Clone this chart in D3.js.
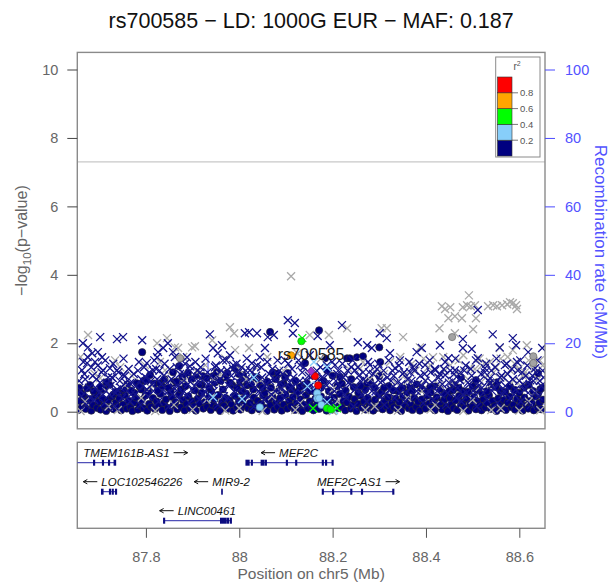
<!DOCTYPE html>
<html><head><meta charset="utf-8">
<script src="https://cdn.jsdelivr.net/npm/d3@7"></script>
<style>
body{margin:0;background:#fff}
svg{display:block;font-family:"Liberation Sans",Arial,Helvetica,sans-serif}
</style>
</head><body>
<svg id="chart" width="611" height="583"></svg>
<script>
// ---- axis ticks and legend breaks ----
const xTicks = [87.8, 88, 88.2, 88.4, 88.6];
const yTicks = [0, 2, 4, 6, 8, 10];
const recTicks = [0, 20, 40, 60, 80, 100];
const ldBreaks = [0.2, 0.4, 0.6, 0.8];
const ldLabels = ["0.2", "0.4", "0.6", "0.8"];
const ldColors = ["#000080", "#87CEFA", "#00FF00", "#FFA500", "#FF0000"];
const gwsLine = 7.3;

// ---- SNPs: [position (Mb), -log10 p] ----
const navyCircles = [
[87.655,.05],[87.659,.31],[87.663,.14],[87.667,.42],[87.671,.08],[87.675,.24],[87.679,.37],[87.683,.03],[87.687,.19],[87.691,.46],
[87.695,.11],[87.699,.29],[87.703,.06],[87.707,.38],[87.711,.17],[87.715,.02],[87.719,.33],[87.723,.12],[87.727,.44],[87.731,.07],
[87.735,.26],[87.739,.15],[87.743,.39],[87.747,.04],[87.751,.21],[87.755,.48],[87.759,.09],[87.763,.32],[87.767,.13],[87.771,.02],
[87.775,.27],[87.779,.41],[87.783,.06],[87.787,.18],[87.791,.35],[87.795,.10],[87.799,.47],[87.803,.03],[87.807,.23],[87.811,.14],
[87.815,.40],[87.819,.08],[87.823,.30],[87.827,.16],[87.831,.52],[87.835,.05],[87.839,.25],[87.843,.36],[87.847,.11],[87.851,.02],
[87.855,.43],[87.859,.19],[87.863,.28],[87.867,.07],[87.871,.50],[87.875,.13],[87.879,.34],[87.883,.04],[87.887,.22],[87.891,.45],
[87.895,.10],[87.899,.31],[87.903,.16],[87.907,.03],[87.911,.38],[87.915,.24],[87.919,.55],[87.923,.09],[87.927,.29],[87.931,.14],
[87.935,.42],[87.939,.05],[87.943,.20],[87.947,.36],[87.951,.12],[87.955,.49],[87.959,.02],[87.963,.27],[87.967,.17],[87.971,.40],
[87.975,.08],[87.979,.33],[87.983,.21],[87.987,.03],[87.991,.46],[87.995,.13],[87.999,.30],[88.003,.06],[88.007,.37],[88.011,.18],
[88.015,.52],[88.019,.10],[88.023,.25],[88.027,.04],[88.031,.41],[88.035,.15],[88.039,.32],[88.043,.07],[88.047,.23],[88.051,.47],
[88.055,.11],[88.059,.02],[88.063,.35],[88.067,.19],[88.071,.44],[88.075,.06],[88.079,.28],[88.083,.14],[88.087,.39],[88.091,.03],
[88.095,.21],[88.099,.50],[88.103,.09],[88.107,.31],[88.111,.16],[88.115,.43],[88.119,.05],[88.123,.26],[88.127,.12],[88.131,.36],
[88.135,.02],[88.139,.20],[88.143,.48],[88.147,.10],[88.151,.30],[88.155,.15],[88.159,.04],[88.163,.38],[88.167,.22],[88.171,.08],
[88.175,.45],[88.179,.13],[88.183,.29],[88.187,.03],[88.191,.34],[88.195,.18],[88.199,.06],[88.203,.41],[88.207,.24],[88.211,.10],
[88.215,.52],[88.219,.15],[88.223,.32],[88.227,.04],[88.231,.27],[88.235,.44],[88.239,.09],[88.243,.19],[88.247,.37],[88.251,.02],
[88.255,.23],[88.259,.47],[88.263,.12],[88.267,.30],[88.271,.06],[88.275,.40],[88.279,.17],[88.283,.26],[88.287,.03],[88.291,.35],
[88.295,.11],[88.299,.49],[88.303,.20],[88.307,.07],[88.311,.31],[88.315,.16],[88.319,.42],[88.323,.04],[88.327,.25],[88.331,.13],
[88.335,.38],[88.339,.08],[88.343,.28],[88.347,.02],[88.351,.45],[88.355,.18],[88.359,.33],[88.363,.10],[88.367,.22],[88.371,.05],
[88.375,.40],[88.379,.14],[88.383,.29],[88.387,.03],[88.391,.36],[88.395,.19],[88.399,.09],[88.403,.47],[88.407,.24],[88.411,.12],
[88.415,.31],[88.419,.04],[88.423,.42],[88.427,.17],[88.431,.27],[88.435,.07],[88.439,.35],[88.443,.15],[88.447,.02],[88.451,.40],
[88.455,.21],[88.459,.10],[88.463,.33],[88.467,.05],[88.471,.46],[88.475,.18],[88.479,.28],[88.483,.11],[88.487,.38],[88.491,.03],
[88.495,.23],[88.499,.14],[88.503,.43],[88.507,.07],[88.511,.30],[88.515,.19],[88.519,.04],[88.523,.36],[88.527,.12],[88.531,.25],
[88.535,.48],[88.539,.08],[88.543,.32],[88.547,.16],[88.551,.02],[88.555,.39],[88.559,.22],[88.563,.10],[88.567,.34],[88.571,.05],
[88.575,.27],[88.579,.44],[88.583,.13],[88.587,.20],[88.591,.06],[88.595,.37],[88.599,.15],[88.603,.29],[88.607,.03],[88.611,.41],
[88.615,.18],[88.619,.09],[88.623,.31],[88.627,.24],[88.631,.04],[88.635,.45],[88.639,.12],[88.643,.26],[88.647,.07],[88.651,.35],
// mid band
[87.657,.70],[87.665,.50],[87.680,.78],[87.695,.52],[87.710,.65],[87.722,.78],[87.730,.50],[87.745,.60],[87.760,.80],[87.775,.55],
[87.790,.65],[87.795,.90],[87.805,.58],[87.825,.62],[87.835,.75],[87.853,.60],[87.860,.85],[87.875,.65],[87.885,.75],[87.905,.62],
[87.920,.78],[87.940,.60],[87.948,.85],[87.965,.65],[87.985,.78],[88.005,.60],[88.015,.85],[88.030,.65],[88.045,.78],[88.055,.55],
[88.068,.70],[88.085,.62],[88.095,.82],[88.112,.65],[88.125,.58],[88.137,.78],[88.150,.60],[88.175,.70],[88.192,.60],[88.210,.75],
[88.228,.62],[88.245,.72],[88.255,.55],[88.270,.65],[88.290,.70],[88.305,.58],[88.320,.75],[88.340,.60],[88.360,.55],[88.380,.80],
[88.400,.62],[88.420,.74],[88.440,.52],[88.460,.78],[88.480,.60],[88.500,.75],[88.520,.55],[88.540,.80],[88.560,.60],[88.580,.74],
[88.600,.55],[88.620,.78],[88.640,.52],[88.650,.70],
[87.660,.55],[87.674,.68],[87.688,.60],[87.703,.72],[87.715,.86],[87.736,.58],[87.752,.66],[87.768,.62],[87.781,.83],[87.786,.74],
[87.800,.90],[87.809,1.07],[87.818,.82],[87.830,.83],[87.840,.95],[87.848,.70],[87.858,1.15],[87.865,.88],[87.871,1.33],[87.878,1.02],
[87.890,1.13],[87.898,.95],[87.910,1.07],[87.915,.80],[87.922,1.04],[87.930,.98],[87.936,.70],[87.944,1.04],[87.952,1.15],[87.960,.90],
[87.970,1.01],[87.974,1.13],[87.980,.85],[87.991,1.27],[87.995,.70],[87.999,1.10],[88.002,.86],[88.008,1.07],[88.010,.92],[88.017,.77],
[88.025,.80],[88.034,1.01],[88.040,.95],[88.050,.70],[88.060,.88],[88.072,1.15],[88.078,.95],[88.083,1.12],[88.090,.80],[88.098,1.00],
[88.104,1.13],[88.107,.72],[88.120,.90],[88.130,.72],[88.141,1.42],[88.145,.83],[88.160,.60],[88.180,.90],[88.184,1.56],[88.188,1.21],
[88.200,1.05],[88.216,1.01],[88.220,.82],[88.231,1.56],[88.237,1.56],[88.240,.95],[88.252,1.59],[88.260,.75],[88.265,1.62],[88.274,.83],
[88.280,.90],[88.300,1.04],[88.302,1.45],[88.310,.70],[88.330,.62],[88.350,.70],[88.366,.72],[88.370,.60],[88.390,.68],[88.409,.72],
[88.410,.56],[88.430,.66],[88.450,.60],[88.458,.63],[88.470,.70],[88.475,1.00],[88.490,.58],[88.507,.92],[88.510,.65],[88.530,.60],
[88.550,.72],[88.552,.86],[88.570,.58],[88.590,.64],[88.610,.70],[88.630,.60],[88.640,1.12],[88.645,.66],
// upper
[87.792,1.74],[88.066,2.33],[88.171,2.38],[88.300,1.88]
];

const navyCrosses = [
[87.657,.90],[87.662,.45],[87.668,1.10],[87.672,.20],[87.678,.70],[87.683,1.30],[87.689,.35],[87.694,.95],[87.700,.55],[87.705,1.15],
[87.711,.25],[87.716,.80],[87.722,.50],[87.727,1.00],[87.733,.15],[87.738,.65],[87.744,.90],[87.749,.40],[87.755,1.05],[87.760,.60],
[87.766,.30],[87.771,.85],[87.777,.50],[87.783,1.20],[87.788,.20],[87.794,.75],[87.800,1.00],[87.805,.45],[87.811,.90],[87.816,.60],
[87.822,1.25],[87.827,.30],[87.833,.80],[87.838,1.05],[87.844,.55],[87.849,.15],[87.855,.95],[87.860,.70],[87.866,1.30],[87.871,.40],
[87.877,.85],[87.882,1.10],[87.888,.50],[87.893,.25],[87.899,1.00],[87.904,.75],[87.910,1.20],[87.915,.35],[87.921,.90],[87.926,.60],
[87.932,1.15],[87.937,.45],[87.943,.80],[87.948,1.30],[87.954,.20],[87.959,.95],[87.965,.65],[87.970,1.10],[87.976,.40],[87.981,.85],
[87.987,1.25],[87.992,.55],[87.998,.30],[88.003,1.00],[88.009,.70],[88.014,1.20],[88.020,.45],[88.025,.90],[88.031,.15],[88.036,1.05],
[88.042,.60],[88.047,1.30],[88.053,.35],[88.058,.80],[88.064,1.10],[88.069,.50],[88.075,.95],[88.080,.25],[88.086,1.20],[88.091,.70],
[88.097,.40],[88.102,1.00],[88.108,.85],[88.113,1.25],[88.119,.55],[88.124,.30],[88.130,.90],[88.135,1.15],[88.141,.65],[88.146,.20],
[88.152,.75],[88.157,1.05],[88.163,.45],[88.168,.95],[88.174,1.30],[88.179,.35],[88.185,.80],[88.190,1.10],[88.196,.50],[88.201,.25],
[88.207,.90],[88.212,1.20],[88.218,.60],[88.223,1.00],[88.229,.40],[88.234,.85],[88.240,1.30],[88.245,.15],[88.251,.70],[88.256,1.05],
[88.262,.50],[88.267,.95],[88.273,.30],[88.278,1.15],[88.284,.60],[88.289,.80],[88.295,1.25],[88.300,.45],[88.306,.90],[88.311,.20],
[88.317,1.00],[88.322,.65],[88.328,1.20],[88.333,.40],[88.339,.85],[88.344,.55],[88.350,1.10],[88.355,.30],[88.361,.95],[88.366,.70],
[88.372,1.30],[88.377,.45],[88.383,.80],[88.388,1.05],[88.394,.25],[88.399,.90],[88.405,.60],[88.410,1.15],[88.416,.35],[88.421,.75],
[88.427,1.00],[88.432,.50],[88.438,1.25],[88.443,.20],[88.449,.85],[88.454,.65],[88.460,1.10],[88.465,.40],[88.471,.95],[88.476,.30],
[88.482,1.20],[88.487,.55],[88.493,.80],[88.498,1.05],[88.504,.45],[88.509,.15],[88.515,.90],[88.520,.70],[88.526,1.15],[88.531,.35],
[88.537,.85],[88.542,.60],[88.548,1.30],[88.553,.25],[88.559,1.00],[88.564,.50],[88.570,.75],[88.575,1.10],[88.581,.40],[88.586,.95],
[88.592,.65],[88.597,1.20],[88.603,.30],[88.608,.80],[88.614,1.05],[88.619,.55],[88.625,.20],[88.630,.90],[88.636,1.15],[88.641,.45],
[88.647,.75],[88.652,1.00],
[87.660,.62],[87.666,1.45],[87.670,.95],[87.675,1.60],[87.681,.40],[87.686,1.05],[87.692,.70],[87.697,1.35],[87.702,.85],[87.708,.50],
[87.713,1.50],[87.719,1.00],[87.724,.75],[87.730,1.40],[87.735,.55],[87.741,1.15],[87.746,.70],[87.752,1.55],[87.757,.85],[87.763,1.25],
[87.768,.50],[87.774,1.10],[87.779,.75],[87.785,1.45],[87.790,.95],[87.796,1.30],[87.802,.65],[87.807,1.15],[87.813,.80],[87.818,1.50],
[87.824,.95],[87.829,1.20],[87.835,.60],[87.840,1.40],[87.846,.85],[87.851,1.25],[87.857,.50],[87.862,1.60],[87.868,.75],[87.873,1.10],
[87.879,.55],[87.884,1.40],[87.890,.80],[87.895,1.20],[87.901,.60],[87.906,1.45],[87.912,.90],[87.917,1.30],[87.923,.50],[87.928,1.55],
[87.934,.80],[87.939,1.05],[87.945,.60],[87.950,1.35],[87.956,.90],[87.961,1.20],[87.967,.45],[87.972,1.50],[87.978,.75],[87.983,1.05],
[87.989,.60],[87.994,1.40],[88.000,.85],[88.005,1.30],[88.011,.50],[88.016,1.55],[88.022,.95],[88.027,1.15],[88.033,.70],[88.038,1.35],
[88.044,.55],[88.049,1.00],[88.055,.75],[88.060,1.45],[88.066,.90],[88.071,1.25],[88.077,.60],[88.082,1.50],[88.088,.85],[88.093,1.10],
[88.099,.55],[88.105,1.40],[88.110,.70],[88.116,1.00],[88.121,.80],[88.127,1.50],[88.132,.55],[88.138,1.30],[88.143,.90],[88.149,1.05],
[88.160,.70],[88.166,1.20],[88.171,.55],[88.177,1.00],[88.182,.70],[88.188,1.35],[88.193,.85],[88.199,1.45],[88.204,.60],[88.210,1.10],
[88.215,.75],[88.221,1.40],[88.226,.50],[88.232,1.20],[88.237,.80],[88.243,1.50],[88.248,.65],[88.254,1.30],[88.259,.90],[88.265,1.15],
[88.270,.55],[88.276,1.45],[88.281,.75],[88.287,1.10],[88.292,.60],[88.298,1.40],[88.303,.85],[88.309,1.20],[88.314,.50],[88.320,1.50],
[88.325,.90],[88.331,1.05],[88.336,.65],[88.342,1.35],[88.347,.80],[88.353,1.15],[88.358,.55],[88.364,1.45],[88.369,.90],[88.375,1.20],
[88.380,.60],[88.386,1.40],[88.391,.75],[88.397,1.10],[88.402,.50],[88.408,1.50],[88.413,.85],[88.419,1.25],[88.424,.60],[88.430,1.10],
[88.435,.80],[88.441,1.45],[88.446,.55],[88.452,1.20],[88.457,.90],[88.463,1.55],[88.468,.70],[88.474,1.15],[88.479,.50],[88.485,1.35],
[88.490,.85],[88.496,1.25],[88.501,.60],[88.507,1.50],[88.512,.75],[88.518,1.10],[88.523,.55],[88.529,1.40],[88.534,.90],[88.540,1.20],
[88.545,.70],[88.551,1.55],[88.556,.80],[88.562,1.05],[88.567,.60],[88.573,1.40],[88.578,.85],[88.584,1.25],[88.589,.50],[88.595,1.45],
[88.600,.90],[88.606,1.15],[88.611,.65],[88.617,1.35],[88.622,.80],[88.628,1.05],[88.633,.55],[88.639,1.50],[88.644,.90],[88.650,1.20],
// upper fringe
[87.665,2.00],[87.676,1.88],[87.685,1.71],[87.697,1.74],[87.706,1.59],[87.674,1.42],[87.691,1.45],[87.663,1.21],[87.708,1.21],[87.723,1.27],
[87.738,1.21],[87.729,.98],[87.751,1.07],[87.766,.83],[87.702,2.18],[87.738,2.12],[87.751,2.18],[87.792,2.09],[87.802,1.42],[87.815,1.21],
[87.826,1.74],[87.837,1.86],[87.847,2.00],[87.824,1.59],[87.858,1.74],[87.873,1.45],[87.888,1.59],[87.894,1.33],[87.916,1.15],[87.937,2.26],
[87.944,1.86],[87.963,1.94],[87.954,1.71],[87.965,1.50],[87.980,1.65],[87.974,1.21],[87.987,1.36],[87.997,1.13],[88.012,2.29],[88.021,2.32],
[88.038,2.29],[88.061,2.18],[88.074,2.24],[88.104,2.67],[88.119,2.59],[88.115,2.29],[88.168,2.21],[88.220,2.53],[88.254,2.03],[88.027,1.42],
[88.044,1.59],[88.055,1.86],[88.023,1.21],[88.098,1.50],[88.130,1.36],[88.151,1.65],[88.194,1.94],[88.205,1.36],[88.227,1.07],[88.248,1.21],
[88.274,1.94],[88.284,1.86],[88.301,2.29],[88.316,2.15],[88.323,1.71],[88.280,1.36],[88.334,1.27],[88.344,1.50],[88.380,1.74],[88.391,1.86],
[88.398,1.36],[88.430,1.94],[88.448,1.56],[88.420,1.21],[88.462,1.21],[88.479,2.12],[88.479,1.86],[88.498,1.83],[88.511,2.97],[88.511,1.56],
[88.526,1.27],[88.543,2.26],[88.558,1.88],[88.569,1.36],[88.586,2.15],[88.593,1.94],[88.602,1.50],[88.619,1.74],[88.634,1.27],[88.649,1.86],
[88.441,1.07],[88.366,1.15],[88.473,.92],[88.537,.98],[88.623,.92]
];

const grayCrosses = [
[88.111,3.96],[88.492,3.40],[88.434,3.08],[88.441,3.00],[88.452,3.05],[88.462,2.79],[88.479,3.05],[88.488,3.11],[88.496,3.08],[88.505,3.11],
[88.448,2.73],[88.477,2.73],[88.507,2.73],[88.501,2.41],[88.533,3.08],[88.544,3.11],[88.552,3.08],[88.563,3.11],[88.574,3.14],[88.580,3.20],
[88.586,3.17],[88.593,3.11],[88.595,3.00],[88.429,2.44],[88.462,2.29],[88.351,2.18],[88.305,2.44],[88.316,2.44],[88.231,2.44],[88.151,2.24],
[88.192,2.24],[87.676,2.24],[87.824,2.00],[87.845,2.15],[87.862,1.88],[87.869,1.86],[87.899,1.88],[87.905,1.91],[87.942,2.09],[87.980,2.47],
[87.989,2.29],[87.991,1.80],[88.021,1.86],[88.387,1.88],[88.415,1.59],[88.558,1.86],[88.586,1.80],[88.616,1.94],[88.323,1.45],[88.355,1.07],
[88.398,.92],[88.452,1.36],[88.494,1.27],[88.537,1.45],[88.580,1.21],[88.612,1.15],[88.644,1.50],[88.291,1.15],[88.259,1.27],[88.430,.77],
[88.515,.72],[88.602,.77],[88.634,.57],[87.702,.98],[87.755,.77],[87.841,1.21],[87.884,.92],[87.927,1.36],[87.959,1.07],[88.044,.92],
[88.087,.63],[87.734,1.50],[87.798,1.36],[87.905,.77],[88.002,1.21],[87.670,.30],[87.720,.15],[87.790,.40],[87.860,.20],[87.930,.35],
[88.000,.10],[88.070,.45],[88.130,.25],[88.210,.30],[88.290,.15],[88.360,.40],[88.420,.20],[88.500,.35],[88.560,.10],[88.620,.30],
[88.370,1.40],[88.405,1.30],[88.470,1.50],[88.520,1.35],[88.545,1.15],[88.590,1.40],[88.630,1.25],[88.440,1.20],[88.395,1.55],[88.560,1.55],
[88.310,1.10],[88.335,.85],[88.345,1.60],[88.360,.90],[88.378,1.20],[88.392,.60],[88.410,1.35],[88.425,1.00],[88.437,1.60],[88.455,.85],
[88.468,1.15],[88.480,1.65],[88.490,.95],[88.505,1.25],[88.515,1.55],[88.528,1.00],[88.540,.80],[88.550,1.30],[88.565,1.00],[88.575,1.60],
[88.588,.90],[88.598,1.25],[88.608,1.05],[88.620,1.50],[88.640,.95],[88.650,1.35],[87.660,1.60],[87.690,1.10],[87.715,.60],[87.745,1.30],
[87.770,1.05],[87.810,.70],[87.830,1.45],[87.850,.90],[87.880,1.60],[87.910,1.15],[87.945,.95],[87.970,1.55],[88.015,.95],[88.035,1.30],
[88.060,1.60],[88.095,1.20],[88.125,1.70],[88.175,1.55],[88.200,.65],[88.235,1.25],[88.265,1.45],[88.280,.95],
[87.660,.02],[87.740,.05],[87.820,.02],[87.900,.06],[87.970,.03],[88.050,.02],[88.120,.05],[88.200,.02],[88.270,.05],[88.340,.03],
[88.410,.06],[88.480,.02],[88.540,.05],[88.600,.03],[88.645,.04]
];

const grayCircles = [[88.456,2.18],[88.630,1.62],[88.630,1.42],[87.873,1.56]];
const lightBlueCrosses = [[87.944,.42],[88.006,.37],[88.031,1.00],[88.166,.77],[88.146,.74],[88.188,.28],[88.188,1.30],[88.203,.04],[88.160,1.45]];
const lightBlueCircles = [[88.044,.13],[88.167,.54],[88.167,.39],[88.171,.39],[88.176,.20]];
const greenCrosses = [[88.135,2.15],[88.158,.10],[88.209,.10]];
const greenCircles = [[88.133,2.06],[88.188,.10],[88.196,.07]];
const orangeCircles = [[88.111,1.65]];
const redCircles = [[88.162,1.04],[88.169,.77]];
const indexSnp = {name: "rs700585", pos: 88.154, logp: 1.18};

// ---- recombination rate (cM/Mb) ----
const recomb = [
[87.653,.5],[87.700,1.2],[87.750,.8],[87.800,2.5],[87.850,1.0],[87.900,3.5],[87.930,2.0],[87.933,16],[87.936,2.0],
[88.000,1.5],[88.050,4.0],[88.100,1.2],[88.150,.6],[88.200,2.8],[88.250,1.5],[88.300,6.0],[88.350,2.0],[88.400,5.0],
[88.450,8.0],[88.500,3.0],[88.550,7.0],[88.600,4.0],[88.655,2.0]
];

// ---- genes ----
const genes = [
 {name:"TMEM161B-AS1", start:87.600, end:87.735, strand:"+", track:0, exons:[[87.688,87.690],[87.707,87.709],[87.720,87.722],[87.732,87.735]]},
 {name:"MEF2C", start:88.0145, end:88.201, strand:"-", track:0, exons:[[88.0145,88.021],[88.026,88.028],[88.047,88.053],[88.056,88.058],[88.101,88.103],[88.121,88.123],[88.178,88.180],[88.185,88.187],[88.199,88.201]]},
 {name:"LOC102546226", start:87.706, end:87.737, strand:"-", track:1, exons:[[87.705,87.708],[87.722,87.724],[87.728,87.730],[87.735,87.737]]},
 {name:"MIR9-2", start:87.9625, end:87.9635, strand:"-", track:1, exons:[[87.9625,87.9635]]},
 {name:"MEF2C-AS1", start:88.179, end:88.331, strand:"+", track:1, exons:[[88.178,88.180],[88.200,88.202],[88.239,88.241],[88.262,88.264],[88.329,88.331]]},
 {name:"LINC00461", start:87.839, end:87.983, strand:"-", track:2, exons:[[87.838,87.840],[87.960,87.972],[87.975,87.977],[87.981,87.983]]}
];

// ================= drawing =================
const svg = d3.select("#chart");
const P = {l: 77.3, r: 545, t: 52.4, b: 428.8};
const G = {t: 442.3, b: 528.3};

const x = d3.scaleLinear().domain([87.653, 88.655]).range([P.l, P.r]);
const y = d3.scaleLinear().domain([-0.5, 10.5]).range([P.b, P.t]);
const yR = d3.scaleLinear().domain([-5, 105]).range([P.b, P.t]);

const defs = svg.append("defs");
defs.append("clipPath").attr("id","plotClip").append("rect")
  .attr("x",P.l).attr("y",P.t).attr("width",P.r-P.l).attr("height",P.b-P.t);
defs.append("clipPath").attr("id","geneClip").append("rect")
  .attr("x",P.l).attr("y",G.t).attr("width",P.r-P.l).attr("height",G.b-G.t);

// title
svg.append("text").attr("x",(P.l+P.r)/2).attr("y",28).attr("text-anchor","middle")
  .attr("font-size",21.5).attr("fill","#111")
  .text("rs700585 \u2212 LD: 1000G EUR \u2212 MAF: 0.187");

const plot = svg.append("g").attr("clip-path","url(#plotClip)");

// genome-wide significance line
plot.append("line").attr("x1",P.l).attr("x2",P.r).attr("y1",y(gwsLine)).attr("y2",y(gwsLine))
  .attr("stroke","#c8c8c8").attr("stroke-width",1.2);

// recombination rate line
plot.append("path").datum(recomb)
  .attr("d", d3.line().x(d=>x(d[0])).y(d=>yR(d[1])))
  .attr("fill","none").attr("stroke","#8c8cff").attr("stroke-width",1);

const crossPath = "M-4,-4L4,4M-4,4L4,-4";
function crosses(data, color, w){
  plot.append("g").selectAll("path").data(data).join("path")
    .attr("transform",d=>`translate(${x(d[0])},${y(d[1])})`)
    .attr("d",crossPath).attr("fill","none").attr("stroke",color).attr("stroke-width",w||1.3);
}
function circles(data, fill, stroke){
  plot.append("g").selectAll("circle").data(data).join("circle")
    .attr("cx",d=>x(d[0])).attr("cy",d=>y(d[1])).attr("r",3.6)
    .attr("fill",fill).attr("stroke",stroke).attr("stroke-width",0.7);
}

circles(navyCircles, ldColors[0], "#2b2b3a");
crosses(grayCrosses, "#a9a9a9");
crosses(navyCrosses, "#14148c");
circles(grayCircles, "#a3a3a3", "#6a6a6a");
crosses(lightBlueCrosses, ldColors[1]);
circles(lightBlueCircles, ldColors[1], "#5a8fb0");
crosses(greenCrosses, ldColors[2]);
circles(greenCircles, ldColors[2], "#2a9a2a");
circles(orangeCircles, ldColors[3], "#a56a00");
circles(redCircles, ldColors[4], "#a00000");

// index SNP and its label
plot.append("path")
  .attr("transform",`translate(${x(indexSnp.pos)},${y(indexSnp.logp)})`)
  .attr("d","M0,-4.5L4,0L0,4.5L-4,0Z").attr("fill","#9932CC").attr("stroke","#5a1a7a").attr("stroke-width",0.7);
plot.append("text").attr("x",x(indexSnp.pos)).attr("y",y(indexSnp.logp)-11)
  .attr("text-anchor","middle").attr("font-size",16).attr("fill","#1a1a1a").text(indexSnp.name);

// panel frame
svg.append("rect").attr("x",P.l).attr("y",P.t).attr("width",P.r-P.l).attr("height",P.b-P.t)
  .attr("fill","none").attr("stroke","#8a8a8a").attr("stroke-width",1.4);

// left axis
const axL = svg.append("g").attr("transform",`translate(${P.l},0)`)
  .call(d3.axisLeft(y).tickValues(yTicks).tickSize(10).tickPadding(9));
axL.select(".domain").remove();
axL.selectAll("line").attr("stroke","#444");
axL.selectAll("text").attr("font-size",14.5).attr("fill","#666").attr("font-family","Liberation Sans, Arial, sans-serif");

// right axis
const axR = svg.append("g").attr("transform",`translate(${P.r},0)`)
  .call(d3.axisRight(yR).tickValues(recTicks).tickSize(10).tickPadding(10));
axR.select(".domain").remove();
axR.selectAll("line").attr("stroke","#4b4bff");
axR.selectAll("text").attr("font-size",14.5).attr("fill","#5252ff").attr("font-family","Liberation Sans, Arial, sans-serif");

// axis titles
const yl = svg.append("text").attr("transform",`translate(27,${(P.t+P.b)/2}) rotate(-90)`)
  .attr("text-anchor","middle").attr("font-size",16).attr("fill","#666");
yl.append("tspan").text("\u2212log");
yl.append("tspan").attr("font-size",11.5).attr("dy",4).text("10");
yl.append("tspan").attr("dy",-4).text("(p\u2212value)");

svg.append("text").attr("transform",`translate(595,252) rotate(90)`)
  .attr("text-anchor","middle").attr("font-size",17).attr("fill","#5252ff")
  .text("Recombination rate (cM/Mb)");

// legend
const lg = svg.append("g");
lg.append("rect").attr("x",495.7).attr("y",57).attr("width",44.3).attr("height",100)
  .attr("fill","#fff").attr("stroke","#8a8a8a").attr("stroke-width",1);
const lgY = d3.scaleLinear().domain([0,1]).range([156,77]);
const lgBins = [0, ...ldBreaks, 1];
lg.selectAll("rect.bin").data(ldColors).join("rect").attr("class","bin")
  .attr("x",497.5).attr("width",14.5)
  .attr("y",(d,i)=>lgY(lgBins[i+1])).attr("height",(d,i)=>lgY(lgBins[i])-lgY(lgBins[i+1]))
  .attr("fill",d=>d).attr("stroke","#333").attr("stroke-width",0.6);
lg.selectAll("line.tk").data(ldBreaks).join("line").attr("class","tk")
  .attr("x1",512).attr("x2",518).attr("y1",d=>lgY(d)).attr("y2",d=>lgY(d))
  .attr("stroke","#555").attr("stroke-width",0.8);
lg.selectAll("text.lb").data(ldBreaks).join("text").attr("class","lb")
  .attr("x",520).attr("y",d=>lgY(d)+3.5).attr("font-size",9.5).attr("fill","#555")
  .text((d,i)=>ldLabels[i]);
const r2t = lg.append("text").attr("x",517).attr("y",70).attr("text-anchor","middle")
  .attr("font-size",10).attr("fill","#555");
r2t.append("tspan").text("r");
r2t.append("tspan").attr("font-size",7).attr("dy",-4).text("2");

// gene panel
svg.append("rect").attr("x",P.l).attr("y",G.t).attr("width",P.r-P.l).attr("height",G.b-G.t)
  .attr("fill","none").attr("stroke","#8a8a8a").attr("stroke-width",1.4);
const gp = svg.append("g").attr("clip-path","url(#geneClip)");
const trackY = t => 462.7 + t*29;
genes.forEach(g=>{
  const ly = trackY(g.track);
  gp.append("line").attr("x1",x(g.start)).attr("x2",x(g.end)).attr("y1",ly).attr("y2",ly)
    .attr("stroke","#5050b8").attr("stroke-width",1.2);
  gp.selectAll(null).data(g.exons).join("rect")
    .attr("x",e=>x(e[0])-0.6).attr("width",e=>Math.max(1.4, x(e[1])-x(e[0])+1.2))
    .attr("y",ly-3).attr("height",6).attr("fill","#0c0c80");
  // label with strand arrow
  const t = gp.append("text").attr("font-size",11.5).attr("font-style","italic")
    .attr("fill","#111").attr("y",ly-6).text(g.name);
  const tw = t.node().getComputedTextLength();
  const aLen = 14, gap = 4, total = tw + gap + aLen;
  const cx = (Math.max(x(g.start),P.l) + Math.min(x(g.end),P.r))/2;
  let left = Math.max(cx - total/2, P.l + 6);
  const ay = ly - 10;
  let ax0, ax1;
  if (g.strand === "-") { ax0 = left; ax1 = left + aLen; t.attr("x", left + aLen + gap); }
  else { t.attr("x", left); ax0 = left + tw + gap; ax1 = ax0 + aLen; }
  gp.append("line").attr("x1",ax0).attr("x2",ax1).attr("y1",ay).attr("y2",ay)
    .attr("stroke","#111").attr("stroke-width",1);
  const tip = g.strand === "-" ? ax0 : ax1, dir = g.strand === "-" ? 1 : -1;
  gp.append("path").attr("d",`M${tip+dir*4},${ay-2.2}L${tip},${ay}L${tip+dir*4},${ay+2.2}`)
    .attr("fill","none").attr("stroke","#111").attr("stroke-width",1);
});

// bottom axis
const axB = svg.append("g").attr("transform",`translate(0,${G.b})`)
  .call(d3.axisBottom(x).tickValues(xTicks).tickFormat(d3.format("")).tickSize(9.5).tickPadding(14));
axB.select(".domain").remove();
axB.selectAll("line").attr("stroke","#555");
axB.selectAll("text").attr("font-size",14.5).attr("fill","#666").attr("font-family","Liberation Sans, Arial, sans-serif");
svg.append("text").attr("x",(P.l+P.r)/2).attr("y",578.5).attr("text-anchor","middle")
  .attr("font-size",15.5).attr("fill","#666").text("Position on chr5 (Mb)");
</script>
</body></html>
